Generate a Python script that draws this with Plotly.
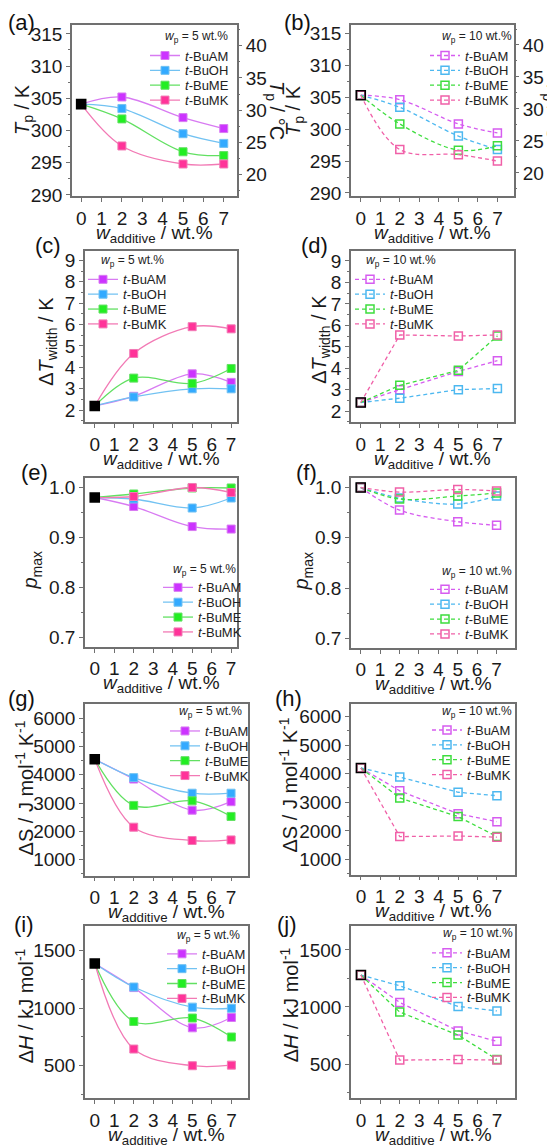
import plotly.graph_objects as go

W, H = 555, 1147
FONT = "Arial, Liberation Sans, Helvetica, sans-serif"


def fx(px):
    return px / W


def fy(py):
    return 1 - py / H


x_add = [0, 2, 5, 7]
series_names = ["<i>t</i>-BuAM", "<i>t</i>-BuOH", "<i>t</i>-BuME", "<i>t</i>-BuMK"]

# (a) T_p / K, w_p = 5 wt.%
tp_5_buam = [304.1, 305.2, 302.0, 300.3]
tp_5_buoh = [304.1, 303.4, 299.5, 298.0]
tp_5_bume = [304.1, 301.8, 296.7, 296.1]
tp_5_bumk = [304.1, 297.6, 294.8, 294.8]
# (b) T_p / K, w_p = 10 wt.%
tp_10_buam = [305.3, 304.6, 300.8, 299.4]
tp_10_buoh = [305.3, 303.4, 298.9, 296.8]
tp_10_bume = [305.3, 300.8, 296.7, 297.4]
tp_10_bumk = [305.3, 296.8, 296.0, 295.0]
# (c) dT_width / K, w_p = 5 wt.%
dtw_5_buam = [2.2, 2.65, 3.7, 3.3]
dtw_5_buoh = [2.2, 2.62, 3.0, 3.0]
dtw_5_bume = [2.2, 3.5, 3.25, 3.95]
dtw_5_bumk = [2.2, 4.65, 5.9, 5.8]
# (d) dT_width / K, w_p = 10 wt.%
dtw_10_buam = [2.4, 3.0, 3.85, 4.35]
dtw_10_buoh = [2.4, 2.6, 3.0, 3.05]
dtw_10_bume = [2.4, 3.2, 3.9, 5.5]
dtw_10_bumk = [2.4, 5.55, 5.5, 5.55]
# (e) p_max, w_p = 5 wt.%
pmax_5_buam = [0.98, 0.962, 0.922, 0.917]
pmax_5_buoh = [0.98, 0.977, 0.959, 0.979]
pmax_5_bume = [0.98, 0.987, 0.999, 0.999]
pmax_5_bumk = [0.98, 0.982, 1.0, 0.99]
# (f) p_max, w_p = 10 wt.%
pmax_10_buam = [1.0, 0.955, 0.932, 0.925]
pmax_10_buoh = [1.0, 0.979, 0.967, 0.983]
pmax_10_bume = [1.0, 0.977, 0.983, 0.989]
pmax_10_bumk = [1.0, 0.991, 0.996, 0.993]
# (g) dS / J mol-1 K-1, w_p = 5 wt.%
ds_5_buam = [4550, 3850, 2750, 3050]
ds_5_buoh = [4550, 3900, 3350, 3350]
ds_5_bume = [4550, 2920, 3080, 2530]
ds_5_bumk = [4550, 2150, 1680, 1700]
# (h) dS / J mol-1 K-1, w_p = 10 wt.%
ds_10_buam = [4200, 3400, 2600, 2320]
ds_10_buoh = [4200, 3880, 3350, 3230]
ds_10_bume = [4200, 3150, 2500, 1800]
ds_10_bumk = [4200, 1800, 1820, 1780]
# (i) dH / kJ mol-1, w_p = 5 wt.%
dh_5_buam = [1390, 1180, 830, 920]
dh_5_buoh = [1390, 1185, 1010, 1000]
dh_5_bume = [1390, 885, 915, 750]
dh_5_bumk = [1390, 645, 500, 505]
# (j) dH / kJ mol-1, w_p = 10 wt.%
dh_10_buam = [1280, 1040, 790, 700]
dh_10_buoh = [1280, 1185, 1005, 965]
dh_10_bume = [1280, 955, 755, 540]
dh_10_bumk = [1280, 535, 540, 535]

col_fill = ["#CC33FF", "#33AAFF", "#22EE22", "#FF3399"]
col_line = ["#D87BF2", "#72C2F2", "#62E062", "#F27AB5"]
col_open = ["#D65CF0", "#4DB8F0", "#3EDD3E", "#F060A8"]

TT = "<i>T</i><sub>p</sub> / K"
TW = "Δ<i>T</i><sub>width</sub> / K"
PM = "<i>p</i><sub>max</sub>"
DS = "ΔS / J mol<sup>-1</sup> K<sup>-1</sup>"
DH = "Δ<i>H</i> / kJ mol<sup>-1</sup>"
XT = "<i>w</i><sub>additive</sub> / wt.%"

# pixel layout per panel: box, y-title centre, legend symbol x / first row y, header position
panels = [
    dict(lab="(a)", lp=(13, 13), data=[tp_5_buam, tp_5_buoh, tp_5_bume, tp_5_bumk], wp="5", op=False,
         box=(64, 229, 15, 188), xr=[-0.45, 7.65], yr=[289.8, 316.4], t0=290, dt=5, mdt=2.5, fmt="d",
         yt=TT, ytp=(15, 101), shape="spline", sym=145, row0=46, lt=(222, 27, "right")),
    dict(lab="(b)", lp=(289, 13), data=[tp_10_buam, tp_10_buoh, tp_10_bume, tp_10_bumk], wp="10", op=True,
         box=(343, 506, 15, 188), xr=[-0.5, 7.85], yr=[289.5, 316.3], t0=290, dt=5, mdt=2.5, fmt="d",
         yt=TT, ytp=(286, 102), shape="spline", sym=425, row0=46, lt=(506, 27, "right")),
    dict(lab="(c)", lp=(40, 238), data=[dtw_5_buam, dtw_5_buoh, dtw_5_bume, dtw_5_bumk], wp="5", op=False,
         box=(77, 229, 243, 416), xr=[-0.5, 7.3], yr=[1.45, 9.45], t0=1, dt=1, mdt=0.5, fmt="d",
         yt=TW, ytp=(40, 335), shape="spline", sym=83, row0=272, lt=(91, 253, "left")),
    dict(lab="(d)", lp=(306, 238), data=[dtw_10_buam, dtw_10_buoh, dtw_10_bume, dtw_10_bumk], wp="10", op=True,
         box=(343, 506, 243, 416), xr=[-0.5, 7.85], yr=[1.49, 9.48], t0=1, dt=1, mdt=0.5, fmt="d",
         yt=TW, ytp=(313, 333), shape="linear", sym=350, row0=272, lt=(356, 253, "left")),
    dict(lab="(e)", lp=(26, 467), data=[pmax_5_buam, pmax_5_buoh, pmax_5_bume, pmax_5_bumk], wp="5", op=False,
         box=(77, 229, 473, 643), xr=[-0.5, 7.3], yr=[0.682, 1.018], t0=0.7, dt=0.1, mdt=0.05, fmt=".1f",
         yt=PM, ytp=(24, 566), shape="spline", sym=158, row0=583, lt=(230, 565, "right")),
    dict(lab="(f)", lp=(298, 467), data=[pmax_10_buam, pmax_10_buoh, pmax_10_bume, pmax_10_bumk], wp="10", op=True,
         box=(343, 507, 473, 644), xr=[-0.5, 7.95], yr=[0.681, 1.018], t0=0.7, dt=0.1, mdt=0.05, fmt=".1f",
         yt=PM, ytp=(295, 567), shape="spline", sym=425, row0=585, lt=(506, 567, "right")),
    dict(lab="(g)", lp=(13, 695), data=[ds_5_buam, ds_5_buoh, ds_5_bume, ds_5_bumk], wp="5", op=False,
         box=(77, 240, 701, 874), xr=[-0.5, 7.87], yr=[440, 6490], t0=0, dt=1000, mdt=500, fmt="d",
         yt=DS, ytp=(16, 786), shape="spline", sym=165, row0=728, lt=(236, 709, "right")),
    dict(lab="(h)", lp=(280, 695), data=[ds_10_buam, ds_10_buoh, ds_10_bume, ds_10_bumk], wp="10", op=True,
         box=(343, 507, 701, 873), xr=[-0.51, 7.93], yr=[470, 6426], t0=0, dt=1000, mdt=500, fmt="d",
         yt=DS, ytp=(280, 783), shape="linear", sym=427, row0=727, lt=(506, 709, "right")),
    dict(lab="(i)", lp=(16, 923), data=[dh_5_buam, dh_5_buoh, dh_5_bume, dh_5_bumk], wp="5", op=False,
         box=(77, 240, 925, 1099), xr=[-0.5, 7.85], yr=[215, 1715], t0=0, dt=500, mdt=250, fmt="d",
         yt=DH, ytp=(16, 1006), shape="spline", sym=162, row0=953, lt=(234, 935, "right")),
    dict(lab="(j)", lp=(279, 923), data=[dh_10_buam, dh_10_buoh, dh_10_bume, dh_10_bumk], wp="10", op=True,
         box=(343, 507, 925, 1099), xr=[-0.51, 7.93], yr=[199, 1708], t0=0, dt=500, mdt=250, fmt="d",
         yt=DH, ytp=(281, 1005), shape="linear", sym=427, row0=952, lt=(507, 933, "right")),
]
ROW_STEP = 15

FRAME = "#707070"
TXT = "#1a1a1a"
TICK_SIZE = 19
fig = go.Figure()
layout = {}
annotations = []


def add_text(text, x, y, size, xanchor="center", yanchor="middle", angle=0, color=TXT):
    annotations.append(dict(text=text, x=fx(x), y=fy(y), xref="paper", yref="paper", showarrow=False,
                            textangle=angle, font=dict(size=size, color=color),
                            xanchor=xanchor, yanchor=yanchor))


for i, p in enumerate(panels, start=1):
    sfx = "" if i == 1 else str(i)
    xa, ya = "x" + sfx, "y" + sfx
    l, r, t, b = p["box"]
    dash = "4px,3px" if p["op"] else "solid"
    for k in range(4):
        n = (i - 1) * 4 + k + 1
        legname = "legend" if n == 1 else "legend" + str(n)
        if p["op"]:
            mk = dict(symbol="square-open", size=8, color=col_open[k], line=dict(width=1.5, color=col_open[k]))
            lc = col_open[k]
        else:
            mk = dict(symbol="square", size=8, color=col_fill[k], line=dict(width=1, color=col_line[k]))
            lc = col_line[k]
        fig.add_trace(go.Scatter(
            x=x_add, y=p["data"][k], mode="lines+markers", name=series_names[k],
            line=dict(color=lc, width=1.3, shape=p["shape"], dash=dash),
            marker=mk, xaxis=xa, yaxis=ya, legend=legname, hoverinfo="skip"))
        layout[legname] = dict(
            x=fx(p["sym"] - 8), y=fy(p["row0"] + k * ROW_STEP), xanchor="left", yanchor="middle",
            bgcolor="rgba(0,0,0,0)", borderwidth=0, font=dict(size=13, color="#222"))
    # reference (0 wt.%) point
    fig.add_trace(go.Scatter(
        x=x_add[:1], y=p["data"][0][:1], mode="markers", showlegend=False, hoverinfo="skip",
        marker=dict(symbol="square-open" if p["op"] else "square", size=9, color="black",
                    line=dict(width=1.6, color="black")),
        xaxis=xa, yaxis=ya))

    layout["xaxis" + sfx] = dict(
        domain=[fx(l), fx(r)], anchor=ya, range=p["xr"], tickmode="linear", tick0=0, dtick=1,
        showline=True, mirror=True, linecolor=FRAME, linewidth=1.5, showgrid=False, zeroline=False,
        ticks="outside", ticklen=4, tickcolor=FRAME, tickfont=dict(size=TICK_SIZE, color=TXT))
    layout["yaxis" + sfx] = dict(
        domain=[fy(b), fy(t)], anchor=xa, range=p["yr"], tickmode="linear", tick0=p["t0"], dtick=p["dt"],
        tickformat=p["fmt"],
        showline=True, mirror=True, linecolor=FRAME, linewidth=1.5, showgrid=False, zeroline=False,
        ticks="outside", ticklen=4, tickcolor=FRAME, tickfont=dict(size=TICK_SIZE, color=TXT),
        minor=dict(dtick=p["mdt"], ticks="outside", ticklen=2, tickcolor=FRAME, showgrid=False))
    add_text(XT, (l + r) / 2, b + 38, 19)                       # x-axis title
    add_text(p["yt"], p["ytp"][0], p["ytp"][1], 20, angle=-90)   # y-axis title
    add_text("<i>w</i><sub>p</sub> = " + p["wp"] + " wt.%", p["lt"][0], p["lt"][1], 12,
             xanchor=p["lt"][2], color="#222")                   # legend header
    add_text(p["lab"], p["lp"][0], p["lp"][1], 22, color="#111")  # panel label

# right-hand Celsius axes for (a) and (b)
for i, (src, ttx) in zip([1, 2], [(tp_5_buam, 268), (tp_10_buam, 545)]):
    p = panels[i - 1]
    sfx = "" if i == 1 else str(i)
    yname = "y" + str(10 + i)
    fig.add_trace(go.Scatter(x=x_add[:1], y=[src[0] - 273.15], mode="markers", marker=dict(opacity=0),
                             showlegend=False, hoverinfo="skip", xaxis="x" + sfx, yaxis=yname))
    layout["yaxis" + str(10 + i)] = dict(
        overlaying="y" + sfx, anchor="x" + sfx, side="right",
        range=[p["yr"][0] - 273.15, p["yr"][1] - 273.15], tickmode="linear", tick0=20, dtick=5,
        showline=False, showgrid=False, zeroline=False, ticks="outside", ticklen=4, tickcolor=FRAME,
        tickfont=dict(size=TICK_SIZE, color=TXT),
        minor=dict(dtick=2.5, ticks="outside", ticklen=2, tickcolor=FRAME, showgrid=False))
    add_text("<i>T</i><sub>p</sub> / °C", ttx, 101, 20, angle=90)

fig.update_layout(**layout)
fig.update_layout(
    width=W, height=H, margin=dict(l=0, r=0, t=0, b=0),
    paper_bgcolor="white", plot_bgcolor="white",
    font=dict(family=FONT, color=TXT),
    showlegend=True, annotations=annotations)

fig.write_html("out.html")
